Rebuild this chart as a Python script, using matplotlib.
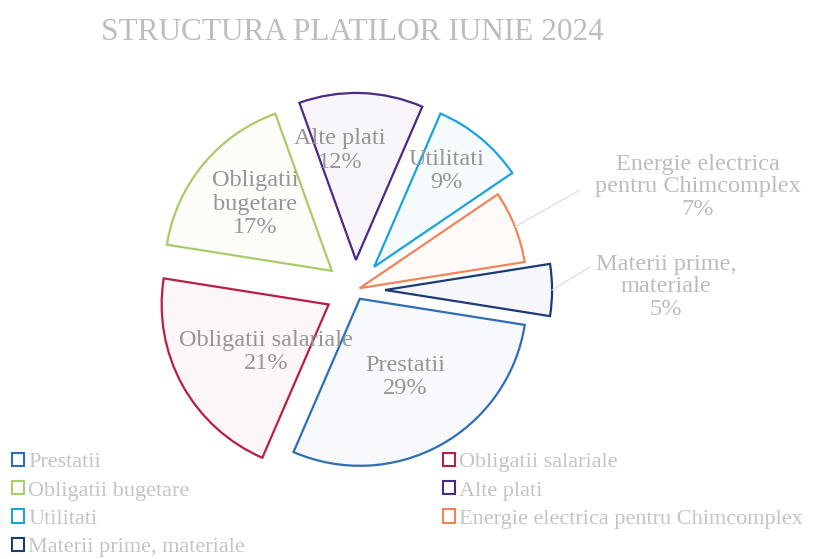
import numpy as np
import matplotlib
matplotlib.use("Agg")
from matplotlib import pyplot as plt
from matplotlib.patches import Patch

# data
categories = [
    "Prestatii",
    "Obligatii salariale",
    "Obligatii bugetare",
    "Alte plati",
    "Utilitati",
    "Energie electrica pentru Chimcomplex",
    "Materii prime, materiale",
]
slice_labels = [
    "Prestatii",
    "Obligatii salariale",
    "Obligatii\nbugetare",
    "Alte plati",
    "Utilitati",
    "Energie electrica\npentru Chimcomplex",
    "Materii prime,\nmateriale",
]
shares = [29, 21, 17, 12, 9, 7, 5]
title = "STRUCTURA PLATILOR IUNIE 2024"

# style
colors = ["#2E6DB8", "#B81F45", "#A9CB6A", "#4A2A86", "#1AA3DC", "#F0845A", "#1B3A78"]
explode = [0.06, 0.18, 0.18, 0.18, 0.18, 0.03, 0.18]
label_r = [0.60, 0.65, 0.79, 0.84, 0.90]
label_dtheta = [1, 6, -1, 8, 2]
text_grey = "#969696"
light_grey = "#BDBDBD"
serif = ["Liberation Serif", "DejaVu Serif"]

W, H = 825, 559
cx, cy, R = 355, 290, 167  # pie centre and radius in pixels


def to_data(px, py):
    return (px - cx) / R, (cy - py) / R


def tint(c, a=0.04):
    rgb = np.array(matplotlib.colors.to_rgb(c))
    return tuple(1 - a * (1 - rgb))


fig = plt.figure(figsize=(W / 100, H / 100), dpi=100)
ax = fig.add_axes([0, 0, 1, 1])

wedges, _ = ax.pie(
    shares,
    explode=explode,
    startangle=-9,
    counterclock=False,
    radius=1,
    colors=[tint(c) for c in colors],
    wedgeprops=dict(linewidth=1.6),
)
for w, c in zip(wedges, colors):
    w.set_edgecolor(c)

ax.set_xlim(-cx / R, (W - cx) / R)
ax.set_ylim(-(H - cy) / R, cy / R)
ax.set_aspect("equal")
ax.axis("off")

# labels inside the five big slices
for i in range(5):
    w = wedges[i]
    mid = np.deg2rad((w.theta1 + w.theta2) / 2 + label_dtheta[i])
    x, y = label_r[i] * np.cos(mid), label_r[i] * np.sin(mid)
    ax.text(x, y, f"{slice_labels[i]}\n{shares[i]}%", ha="center", va="center",
            fontsize=17.5, color=text_grey, family=serif, linespacing=1.15)

# outside labels with leader lines for the two small slices
outside = [(5, (698, 187), (580, 190)), (6, (666, 287), (590, 267))]
for i, lab_px, end_px in outside:
    w = wedges[i]
    mid = np.deg2rad((w.theta1 + w.theta2) / 2)
    r0 = 1 + explode[i]
    x0, y0 = r0 * np.cos(mid), r0 * np.sin(mid)
    ex, ey = to_data(*end_px)
    ax.plot([x0, ex], [y0, ey], color="#DADADA", lw=0.8)
    lx, ly = to_data(*lab_px)
    ax.text(lx, ly, f"{slice_labels[i]}\n{shares[i]}%", ha="center", va="center",
            fontsize=17.5, color=light_grey, family=serif, linespacing=1.12)

fig.text(352 / W, 1 - 32 / H, title, ha="center", va="center",
         fontsize=22.5, color=light_grey, family=serif)

# legend, laid out in rows like the original (two columns)
handles = [Patch(facecolor="white", edgecolor=c, linewidth=1.5) for c in colors]
cols = [[0, 2, 4, 6], [1, 3, 5]]
anchors = [(-4 / W, 1 - 437 / H), (427 / W, 1 - 437 / H)]
for idx, anc in zip(cols, anchors):
    fig.legend(
        [handles[k] for k in idx], [categories[k] for k in idx],
        loc="upper left", bbox_to_anchor=anc, frameon=False,
        prop={"family": serif, "size": 16}, labelcolor="#C4C4C4",
        handlelength=0.55, handleheight=0.55, handletextpad=0.2,
        labelspacing=0.4, borderpad=0.2,
    )

fig.savefig("out.png", dpi=100)
